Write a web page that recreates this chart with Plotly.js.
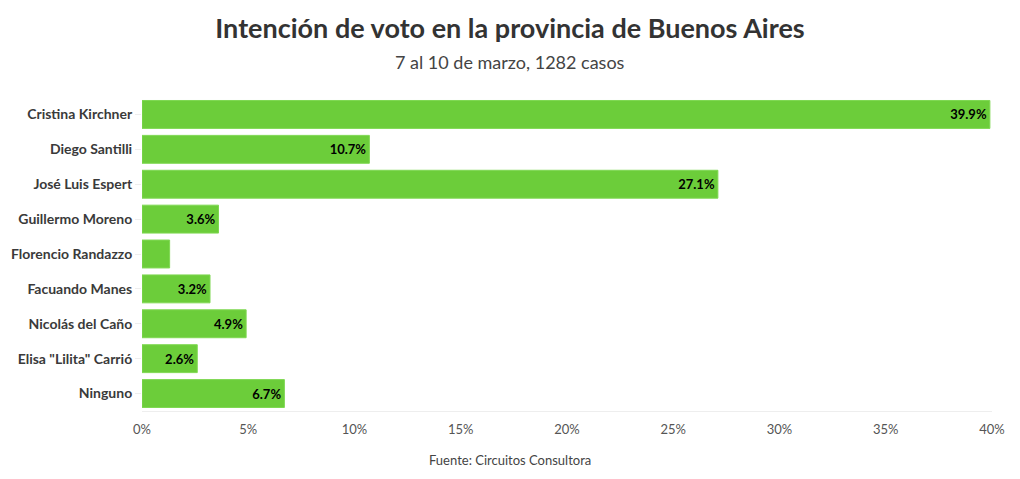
<!DOCTYPE html>
<html>
<head>
<meta charset="utf-8">
<script src="https://cdn.plot.ly/plotly-3.0.1.min.js"></script>
<style>html,body{margin:0;padding:0;background:#fff;}#chart{width:1020px;height:479px;}</style>
</head>
<body>
<div id="chart"></div>
<script>
const candidates = ["Cristina Kirchner","Diego Santilli","José Luis Espert","Guillermo Moreno","Florencio Randazzo","Facuando Manes","Nicolás del Caño","Elisa \"Lilita\" Carrió","Ninguno"];
const votes = [39.9,10.7,27.1,3.6,1.3,3.2,4.9,2.6,6.7];
const xTickVals = [0,5,10,15,20,25,30,35,40];
const xTickText = ["0%","5%","10%","15%","20%","25%","30%","35%","40%"];

const FONT = "'Source Sans Pro', Lato, 'Noto Sans', sans-serif";

const trace = {
  type: 'bar',
  orientation: 'h',
  x: votes,
  y: candidates,
  text: votes.map(v => v.toFixed(1) + '%'),
  textposition: 'inside',
  insidetextanchor: 'end',
  insidetextfont: {family: FONT, size: 13, color: '#000', weight: 'bold'},
  marker: {color: '#6ccd3a', line: {color: '#7fd852', width: 1}},
  hoverinfo: 'none'
};

const layout = {
  width: 1020, height: 479,
  margin: {l: 142, r: 28, t: 97, b: 68},
  paper_bgcolor: '#fff', plot_bgcolor: '#fff',
  font: {family: FONT, color: '#444'},
  title: {text: '<b>Intención de voto en la provincia de Buenos Aires</b>',
          xref: 'container', x: 0.5, xanchor: 'center', yref: 'container', y: 1 - 29/479, yanchor: 'middle',
          font: {family: FONT, size: 27, color: '#333'}},
  bargap: 0.2,
  showlegend: false,
  uniformtext: {mode: 'hide', minsize: 13},
  xaxis: {range: [0, 40], tickvals: xTickVals, ticktext: xTickText, showgrid: false, zeroline: false,
          showline: true, linecolor: '#eee', linewidth: 1, ticks: 'outside', ticklen: 6, tickcolor: 'rgba(0,0,0,0)',
          tickfont: {size: 13, color: '#555'}},
  yaxis: {autorange: 'reversed', showgrid: false, zeroline: false, ticks: 'outside', ticklen: 6, tickcolor: '#eee',
          tickfont: {size: 14, color: '#3a3a3a', weight: 'bold'}},
  annotations: [
    {text: '7 al 10 de marzo, 1282 casos', xref: 'paper', yref: 'paper', x: (510-142)/850, y: 1, yshift: 35,
     xanchor: 'center', yanchor: 'middle', showarrow: false, font: {size: 18, color: '#444'}},
    {text: 'Fuente: Circuitos Consultora', xref: 'paper', yref: 'paper', x: (510-142)/850, y: 0, yshift: -49,
     xanchor: 'center', yanchor: 'middle', showarrow: false, font: {size: 13, color: '#444'}}
  ]
};

Plotly.newPlot('chart', [trace], layout, {displayModeBar: false, staticPlot: true});
</script>
</body>
</html>
